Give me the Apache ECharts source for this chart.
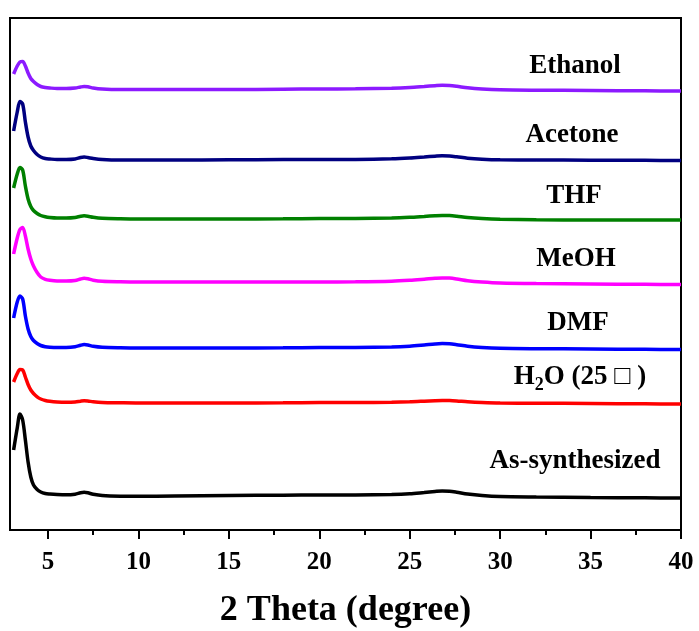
<!DOCTYPE html>
<html>
<head>
<meta charset="utf-8">
<script src="https://cdn.jsdelivr.net/npm/echarts@6/dist/echarts.min.js"></script>
<style>
html,body{margin:0;padding:0;background:#fff;}
#chart{width:699px;height:631px;}
</style>
</head>
<body>
<div id="chart"></div>
<script>
// 2 Theta sample positions (degree)
var twoTheta = [3.1,3.3,3.45,3.6,3.75,3.9,4.05,4.2,4.4,4.6,4.85,5.1,5.5,6.0,6.5,6.8,7.0,7.2,7.5,8.0,9,10,12,15,18,20,22,24,25,25.8,26.4,26.8,27.2,27.6,28.2,29,30,32,35,38,40];
// Offset (stacked) intensities, a.u.
var ethanol = [456,464,468,468.5,464,457,451.5,448.5,445.5,443.5,442.5,442,441.5,441.5,442,443,443.5,443.2,442,441,440.5,440.5,440.5,440.5,440.8,441,441.2,441.8,442.5,443.5,444.3,444.7,444.5,443.7,442.2,441,440.2,439.8,439.5,439.2,439];
var acetone = [399,418,428.5,426,408,393,384,379.5,375.5,373,371.5,371,370.5,370.5,371,372.5,373,372.5,371.5,370.5,370,370,370,370.2,370.4,370.5,370.6,371.2,372,373,373.8,374.2,374,373.2,371.8,370.8,370.2,370,369.8,369.7,369.5];
var thf = [342,356,362.5,360,344,331,323.5,319.5,316.5,314.5,313.2,312.5,312,312,312.5,313.7,314.2,313.8,312.7,311.7,311.2,311,311,311,311.2,311.4,311.5,312,312.7,313.6,314.3,314.6,314.4,313.7,312.4,311.4,310.7,310.3,310,310,310];
var meoh = [276,292,300.5,302.5,294,281,271,264,257.5,253,250.7,249.7,249,249,249.5,251,251.7,251.2,249.8,248.7,248.2,248,248,248,248,248,248.2,248.8,249.7,250.8,251.7,252.1,251.9,251,249.3,248,247,246.4,246,245.7,245.5];
var dmf = [212,228,234,231,214,201,193.5,189.5,186.5,184.5,183.3,182.8,182.5,182.5,183.2,184.7,185.4,185,183.7,182.7,182.2,182,182,182,182.2,182.4,182.5,183,183.8,185,186,186.4,186.2,185.3,183.7,182.5,181.7,181.3,181,180.7,180.5];
var h2o = [148,156.5,160.5,160,153,145.5,140,136.5,133.2,131,129.5,128.7,128,127.7,128,128.8,129.2,129,128.2,127.5,127.2,127,127,127,127.2,127.4,127.5,127.8,128.2,128.8,129.3,129.5,129.4,129,128.2,127.5,127,126.8,126.5,126.2,126];
var asSynth = [80,102,116,110,90,68,53,45,40.5,38,36.5,36,35.5,35.2,35.8,37.2,37.7,37.2,35.8,34.5,33.8,33.7,34,34.5,34.8,35,35.1,35.5,36.2,37.5,38.5,39,38.8,37.8,36,34.5,33.5,33,32.5,32.2,32];

var majorTicks = [5,10,15,20,25,30,35,40];
var minorTicks = [7.5,12.5,17.5,22.5,27.5,32.5,37.5];

var seriesNames = ['Ethanol','Acetone','THF','MeOH','DMF','H2O','As-synthesized'];
var seriesValues = [ethanol, acetone, thf, meoh, dmf, h2o, asSynth];
var seriesColors = ['#8C1AFF','#000080','#008000','#FF00FF','#0000FF','#FF0000','#000000'];

function pairs(ys){ return twoTheta.map(function(x,i){ return [x, ys[i]]; }); }

var FONT = '"Liberation Serif","Times New Roman",serif';
var chart = echarts.init(document.getElementById('chart'));

var labelStyle = {fontFamily: FONT, fontWeight: 'bold', fontSize: 27, fill: '#000', textAlign: 'center', textVerticalAlign: 'middle'};
function lbl(text, x, y){ return {type:'text', x:x, y:y, style: Object.assign({text:text}, labelStyle)}; }

chart.setOption({
  animation: false,
  backgroundColor: '#fff',
  grid: {left: 10, right: 18, top: 18, bottom: 101, show: true, borderColor: '#000', borderWidth: 2,
         containLabel: false, outerBoundsMode: 'none'},
  xAxis: [{
    type: 'value', min: 2.9, max: 40, position: 'bottom',
    axisLine: {show: true, onZero: false, lineStyle: {color: '#000', width: 2}},
    axisTick: {show: true, inside: false, length: 9, lineStyle: {color: '#000', width: 2}, customValues: majorTicks},
    axisLabel: {show: true, customValues: majorTicks, margin: 20, color: '#000', fontFamily: FONT, fontWeight: 'bold', fontSize: 25},
    splitLine: {show: false},
    name: '2 Theta (degree)', nameLocation: 'middle', nameGap: 63,
    nameTextStyle: {color: '#000', fontFamily: FONT, fontWeight: 'bold', fontSize: 36}
  }, {
    type: 'value', min: 2.9, max: 40, position: 'bottom',
    axisLine: {show: false},
    axisTick: {show: true, inside: false, length: 5, lineStyle: {color: '#000', width: 2}, customValues: minorTicks},
    axisLabel: {show: false},
    splitLine: {show: false}
  }],
  yAxis: {
    type: 'value', min: 0, max: 512,
    axisLine: {show: true, lineStyle: {color: '#000', width: 2}},
    axisTick: {show: false}, axisLabel: {show: false}, splitLine: {show: false}
  },
  series: seriesNames.map(function(n, i){
    return {
      name: n, type: 'line', data: pairs(seriesValues[i]), xAxisIndex: 0,
      showSymbol: false, symbol: 'none', smooth: 0.3,
      lineStyle: {color: seriesColors[i], width: 3.5}
    };
  }),
  graphic: [
    lbl('Ethanol', 575, 66),
    lbl('Acetone', 572, 135),
    lbl('THF', 574, 196),
    lbl('MeOH', 576, 259),
    lbl('DMF', 578, 323),
    {type:'text', x: 580, y: 377, style: {
      rich: {
        a: {fontFamily: FONT, fontWeight: 'bold', fontSize: 27, fill: '#000'},
        s: {fontFamily: FONT, fontWeight: 'bold', fontSize: 18, fill: '#000', padding: [16,0,0,0]}
      },
      text: '{a|H}{s|2}{a|O (25 □ )}', textAlign: 'center', textVerticalAlign: 'middle'
    }},
    lbl('As-synthesized', 575, 461)
  ]
});
</script>
</body>
</html>
